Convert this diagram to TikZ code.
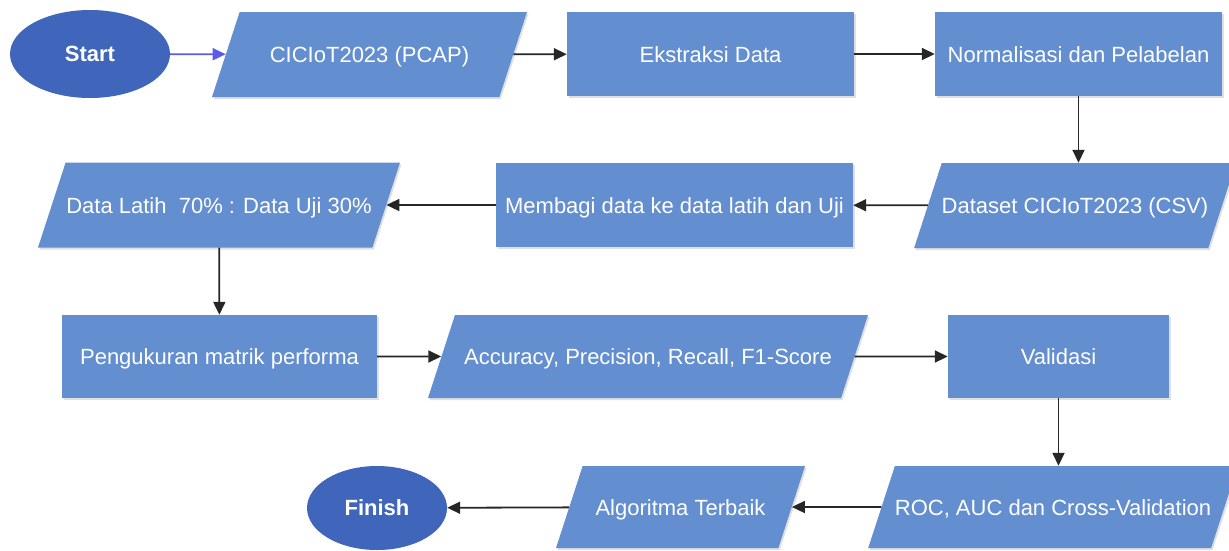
\documentclass[tikz,border=0pt]{standalone}
\usepackage{fontspec}
\setmainfont{Liberation Sans}
\usetikzlibrary{shapes.geometric,arrows.meta,shadows}

\definecolor{boxblue}{HTML}{638ECF}
\definecolor{ovalblue}{HTML}{4066BC}
\definecolor{startarrow}{HTML}{5B5BE6}

\tikzset{
  softshadow/.style={drop shadow={shadow xshift=1.5pt, shadow yshift=-2pt, opacity=0.12, fill=black}},
  process/.style={rectangle, fill=boxblue, text=white, minimum height=84pt, inner sep=0pt,
    text height=18pt, text depth=2pt, softshadow},
  data/.style={trapezium, trapezium left angle=72, trapezium right angle=108, trapezium stretches body,
    fill=boxblue, text=white, inner xsep=0pt, inner ysep=32.5pt, text height=18pt, text depth=2pt, softshadow},
  terminal/.style={ellipse, fill=ovalblue, text=white, font=\fontsize{22}{26}\selectfont\bfseries, inner sep=0pt},
  flow/.style={-{Triangle[length=13pt,width=12pt]}, line width=1.8pt, black!85},
}

\begin{document}
\begin{tikzpicture}[x=1pt, y=-1pt, font=\fontsize{22}{26}\selectfont]

\useasboundingbox (0,0) rectangle (1229,550);

% baris pertama
\node[terminal, minimum width=160pt, minimum height=88pt] (start) at (90,54) {Start};
\node[data, minimum width=315pt] (pcap) at (369.5,54.5) {CICIoT2023 (PCAP)};
\node[process, minimum width=287pt] (extract) at (710.5,54) {Ekstraksi Data};
\node[process, minimum width=287pt] (norm) at (1078.5,54) {Normalisasi dan Pelabelan};

% baris kedua
\node[data, minimum width=309pt] (csv) at (1075,205.5) {Dataset CICIoT2023 (CSV)};
\node[process, minimum width=357pt] (split) at (674.5,205) {Membagi data ke data latih dan Uji};
\node[data, minimum width=362pt] (ratio) at (219,205) {Data Latih\ \ 70\% : Data Uji 30\%};

% baris ketiga
\node[process, minimum width=315pt, minimum height=83pt] (measure) at (219.5,356.5) {Pengukuran matrik performa};
\node[data, minimum width=440pt, inner ysep=31.5pt] (metrics) at (648,356.5) {Accuracy, Precision, Recall, F1-Score};
\node[process, minimum width=221pt, minimum height=83pt] (valid) at (1058.5,356.5) {Validasi};

% baris keempat
\node[data, minimum width=351pt, inner ysep=31pt] (roc) at (1053,507) {ROC, AUC dan Cross-Validation};
\node[data, minimum width=249pt, inner ysep=31pt] (best) at (680.5,507) {Algoritma Terbaik};
\node[terminal, minimum width=140pt, minimum height=84pt] (finish) at (377,508) {Finish};

\draw[flow, startarrow] (start) -- (pcap);
\draw[flow] (pcap) -- (extract);
\draw[flow] (extract) -- (norm);
\draw[flow] (norm.south) -- (norm.south |- csv.north);
\draw[flow] (csv) -- (split);
\draw[flow] (split) -- (ratio);
\draw[flow] (ratio) -- (measure);
\draw[flow] (measure) -- (metrics);
\draw[flow] (metrics) -- (valid);
\draw[flow] (valid.south) -- (valid.south |- roc.north);
\draw[flow] (roc) -- (best);
\draw[flow] (best) -- (finish);

\end{tikzpicture}
\end{document}
